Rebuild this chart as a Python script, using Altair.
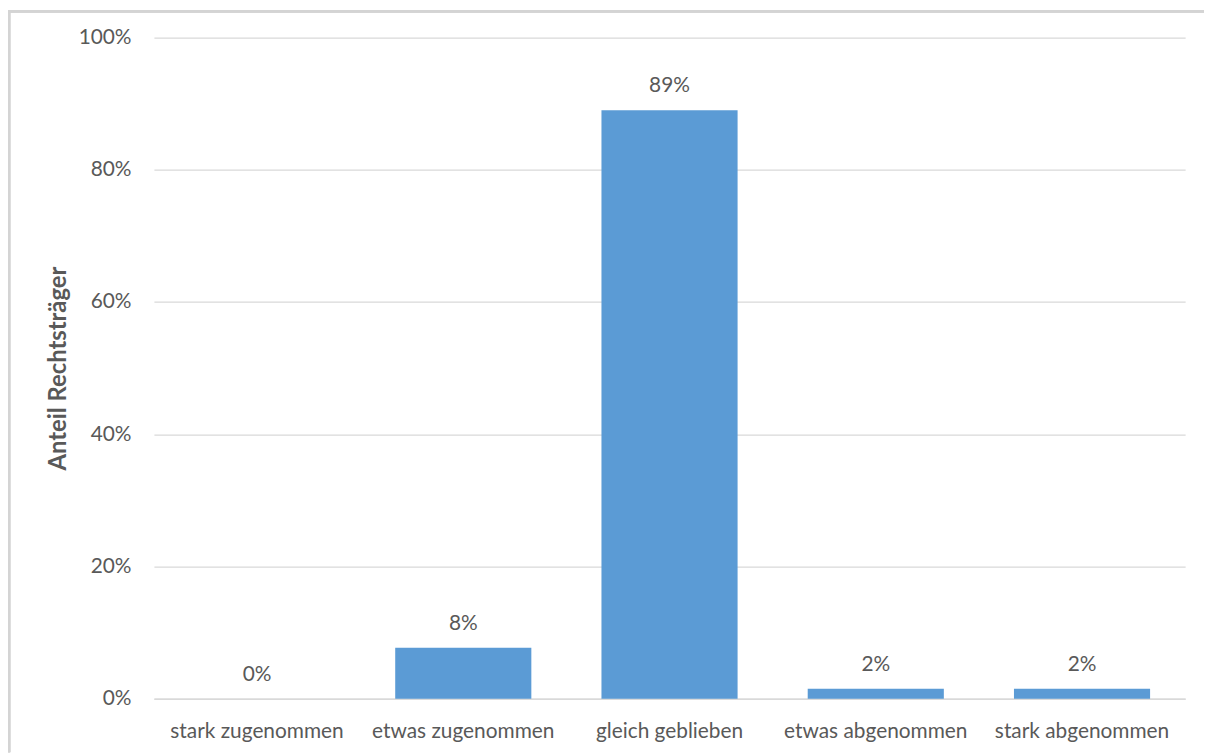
import altair as alt
import pandas as pd

categories = ["stark zugenommen", "etwas zugenommen", "gleich geblieben", "etwas abgenommen", "stark abgenommen"]
values = [0.0, 0.077, 0.890, 0.015, 0.015]
labels = ["0%", "8%", "89%", "2%", "2%"]

df = pd.DataFrame({"cat": categories, "val": values, "lab": labels})

FONT = "Lato"
GREY = "#595959"
W, H = 1039, 666
PL, PT = 147, 27

x = alt.X("cat:N", sort=categories, title=None,
          scale=alt.Scale(paddingInner=0.34, paddingOuter=0.17),
          axis=alt.Axis(labelAngle=0, labelFont=FONT, labelFontSize=21, labelColor=GREY,
                        labelPadding=22, labelLimit=400, labelOverlap=False,
                        ticks=False, domain=True, domainColor="#d9d9d9",
                        domainWidth=1.5, grid=False))
y = alt.Y("val:Q", title="Anteil Rechtsträger",
          scale=alt.Scale(domain=[0, 1], nice=False),
          axis=alt.Axis(format=".0%", values=[0, 0.2, 0.4, 0.6, 0.8, 1.0],
                        labelFont=FONT, labelFontSize=21, labelColor=GREY, labelPadding=23,
                        ticks=False, domain=False, grid=True, gridColor="#d9d9d9", gridWidth=1.2,
                        titleFont=FONT, titleFontSize=24, titleFontWeight="bold", titleColor=GREY,
                        titlePadding=8))

bars = alt.Chart(df).mark_bar(color="#5B9BD5").encode(x=x, y=y)
text = alt.Chart(df).mark_text(baseline="bottom", dy=-14, font=FONT, fontSize=21, color=GREY).encode(
    x=alt.X("cat:N", sort=categories), y="val:Q", text="lab:N")

frame_top = alt.Chart(df).mark_rule(color="#d4d4d4", strokeWidth=2.5).encode(
    x=alt.value(-PL), x2=alt.value(1213 - 8 - PL), y=alt.value(-PT + 0.5))
frame_left = alt.Chart(df).mark_rule(color="#d4d4d4", strokeWidth=2.5).encode(
    x=alt.value(-PL + 1), y=alt.value(-PT), y2=alt.value(755 - 8 - PT))

chart = alt.layer(bars, text, frame_top, frame_left).properties(
    width=W, height=H,
    background="white",
    autosize=alt.AutoSizeParams(type="none"),
    padding={"left": PL, "top": PT, "right": 20, "bottom": 60},
).configure_view(stroke=None, strokeWidth=0)

chart.save("out.html", embed_options={"renderer": "svg", "actions": False})
